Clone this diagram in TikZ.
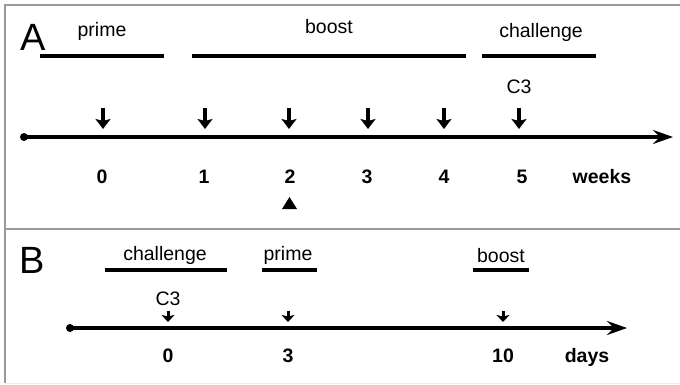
\documentclass[tikz,border=0pt]{standalone}
\usepackage{fontspec}
\setmainfont{Liberation Sans}
\usetikzlibrary{arrows.meta}

\begin{document}
\begin{tikzpicture}[x=1pt,y=1pt,
  frame/.style={draw=black!40,line width=1.3pt},
  letter/.style={anchor=base,font=\fontsize{38}{40}\selectfont},
  label/.style={anchor=base,font=\fontsize{19.5}{22}\selectfont},
  num/.style={anchor=base,font=\fontsize{19.5}{22}\selectfont\bfseries},
  bar/.style={line width=3.4pt},
  axis/.style={line width=3.1pt,-{Stealth[length=20pt,width=14pt,inset=7pt]}},
  doseA/.style={line width=3.4pt,-{Stealth[length=10pt,width=15pt,inset=2pt]}},
  doseB/.style={line width=3pt,-{Stealth[length=7pt,width=13pt,inset=1.5pt]}}]
\useasboundingbox (0,0) rectangle (680,384);
% frame
\draw[frame] (680,379)--(5,379)--(5,1);
\draw[frame] (5,155)--(680,155);
\draw[draw=black!8,line width=1pt] (5,1)--(680,1);
% begin A
\node[letter] (A) at (33,334) {A};
\node[label] (primeA) at (102,348) {prime};
\node[label] (boostA) at (329,351) {boost};
\node[label] (challA) at (541,347) {challenge};
\coordinate (pA1) at (40,328); \coordinate (pA2) at (164,328);
\coordinate (bA1) at (192,328); \coordinate (bA2) at (466,328);
\coordinate (cA1) at (482,328); \coordinate (cA2) at (596,328);
\draw[bar] (pA1)--(pA2);
\draw[bar] (bA1)--(bA2);
\draw[bar] (cA1)--(cA2);
\node[label] (c3A) at (519,291) {C3};
\coordinate (startA) at (24,247);
\coordinate (endA) at (673,247);
\coordinate (tipA) at (0,255);
\coordinate (dA0) at (103,276);
\coordinate (dA1) at (205,276);
\coordinate (dA2) at (289,276);
\coordinate (dA3) at (368,276);
\coordinate (dA4) at (444,276);
\coordinate (dA5) at (519,276);
\draw[axis] (startA)--(endA);
\fill (startA) circle (4);
\draw[doseA] (dA0)--(dA0 |- tipA);
\draw[doseA] (dA1)--(dA1 |- tipA);
\draw[doseA] (dA2)--(dA2 |- tipA);
\draw[doseA] (dA3)--(dA3 |- tipA);
\draw[doseA] (dA4)--(dA4 |- tipA);
\draw[doseA] (dA5)--(dA5 |- tipA);
\node[num] (w0) at (102,201) {0};
\node[num] (w1) at (204,201) {1};
\node[num] (w2) at (290,201) {2};
\node[num] (w3) at (367,201) {3};
\node[num] (w4) at (444,201) {4};
\node[num] (w5) at (522,201) {5};
\node[num] (weeks) at (602,201) {weeks};
\fill (282,175)--(297,175)--(289.5,187)--cycle;
% begin B
\node[letter] (B) at (32,111) {B};
\node[label] (challB) at (165,124) {challenge};
\node[label] (primeB) at (288,124) {prime};
\node[label] (boostB) at (501,122) {boost};
\coordinate (cB1) at (105,114); \coordinate (cB2) at (227,114);
\coordinate (pB1) at (262,114); \coordinate (pB2) at (317,114);
\coordinate (bB1) at (473,114); \coordinate (bB2) at (529,114);
\draw[bar] (cB1)--(cB2);
\draw[bar] (pB1)--(pB2);
\draw[bar] (bB1)--(bB2);
\node[label] (c3B) at (168,79) {C3};
\coordinate (startB) at (70,56);
\coordinate (endB) at (627,56);
\coordinate (tipB) at (0,62);
\coordinate (dB0) at (168,73);
\coordinate (dB3) at (288,73);
\coordinate (dB10) at (503,73);
\draw[axis] (startB)--(endB);
\fill (startB) circle (4);
\draw[doseB] (dB0)--(dB0 |- tipB);
\draw[doseB] (dB3)--(dB3 |- tipB);
\draw[doseB] (dB10)--(dB10 |- tipB);
\node[num] (d0) at (168,22) {0};
\node[num] (d3) at (288,22) {3};
\node[num] (d10) at (503,22) {10};
\node[num] (days) at (587,22) {days};
\end{tikzpicture}
\end{document}
